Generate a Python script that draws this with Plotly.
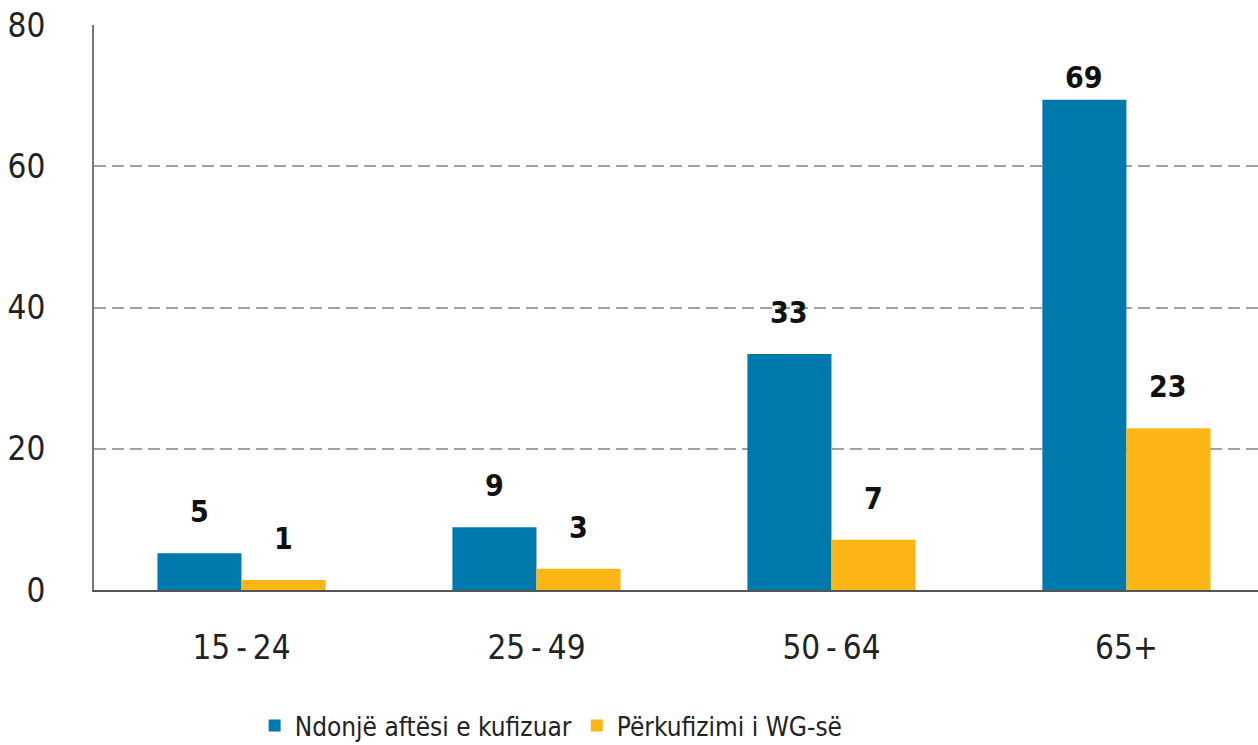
import plotly.graph_objects as go

categories = ['15-24', '25-49', '50-64', '65+']
tick_text = ['15\u2009-\u200924', '25\u2009-\u200949', '50\u2009-\u200964', '65+']
any_disability = [5.2, 8.9, 33.4, 69.4]
wg_definition = [1.4, 3.0, 7.1, 22.9]
series_names = ['Ndonjë aftësi e kufizuar', 'Përkufizimi i WG-së']

BLUE = '#0079AD'
ORANGE = '#FBB615'
FONT = 'DejaVu Sans Condensed, Roboto, sans-serif'

fig = go.Figure()
fig.add_trace(go.Bar(x=categories, y=any_disability, name=series_names[0],
                     marker_color=BLUE, marker_line_width=0))
fig.add_trace(go.Bar(x=categories, y=wg_definition, name=series_names[1],
                     marker_color=ORANGE, marker_line_width=0))

# value labels sit a bit above the bars
for vals, dx in [(any_disability, -42), (wg_definition, 42)]:
    for cat, v in zip(categories, vals):
        fig.add_annotation(x=cat, y=v, text='<b>%.0f</b>' % v, showarrow=False,
                           xshift=dx, yshift=22 if v < 60 else 3, yanchor='bottom',
                           font=dict(family=FONT, size=30, color='#111111'))

fig.update_layout(
    width=1258, height=745,
    margin=dict(l=94, r=0, t=25, b=155, autoexpand=False),
    paper_bgcolor='white', plot_bgcolor='white',
    barmode='group', bargap=0.43, bargroupgap=0,
    font=dict(family=FONT, size=33, color='#222222'),
    showlegend=True,
    legend=dict(orientation='h', x=0.138, xanchor='left', y=-0.24, yanchor='middle',
                font=dict(size=26), itemwidth=30, traceorder='normal'),
)
fig.update_xaxes(tickvals=categories, ticktext=tick_text, range=[-0.5, 3.446],
                 showline=True, linecolor='#555555', linewidth=2, automargin=False,
                 ticks='', ticklabelstandoff=27, showgrid=False)
fig.update_yaxes(range=[0, 80], tickvals=[0, 20, 40, 60, 80], automargin=False,
                 showline=True, linecolor='#777777', linewidth=2,
                 showgrid=True, gridcolor='#a0a0a0', griddash='12px,6px', gridwidth=1.5,
                 zeroline=False, ticks='', ticklabelstandoff=40)

# page body has a default 8px margin; drop it so the figure fills the window
fig.write_html('out.html', config={'displayModeBar': False},
               post_script="document.body.style.margin='0';")
